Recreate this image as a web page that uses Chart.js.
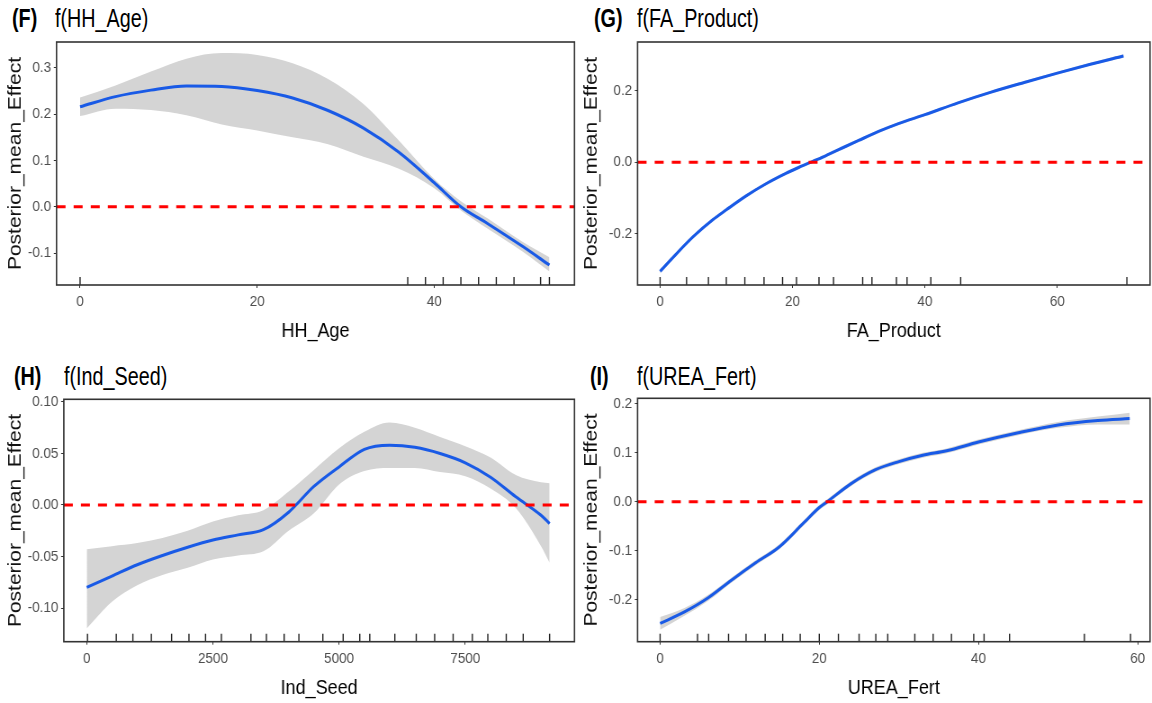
<!DOCTYPE html>
<html><head><meta charset="utf-8">
<script src="https://cdn.jsdelivr.net/npm/chart.js@4.4.1/dist/chart.umd.min.js"></script>
<style>
html,body{margin:0;padding:0;background:#fff;width:1152px;height:703px;overflow:hidden;position:relative}
canvas{position:absolute;transform:scaleX(0.9);transform-origin:0 0}
.ttl{position:absolute;font-family:'Liberation Sans',Arial,sans-serif;font-size:25px;line-height:1;color:#000;white-space:nowrap;transform:scaleX(0.79);transform-origin:0 0}
.lbl{font-weight:bold}
</style></head><body>
<div class="ttl lbl" style="left:12px;top:6px">(F)</div>
<div class="ttl" style="left:55px;top:6px">f(HH_Age)</div>
<div class="ttl lbl" style="left:594px;top:6px">(G)</div>
<div class="ttl" style="left:637px;top:6px">f(FA_Product)</div>
<div class="ttl lbl" style="left:14px;top:364px">(H)</div>
<div class="ttl" style="left:64px;top:364px">f(Ind_Seed)</div>
<div class="ttl lbl" style="left:590px;top:364px">(I)</div>
<div class="ttl" style="left:637px;top:364px">f(UREA_Fert)</div>
<canvas id="cF" width="640" height="351" style="left:0;top:0"></canvas>
<canvas id="cG" width="640" height="351" style="left:576px;top:0"></canvas>
<canvas id="cH" width="640" height="352" style="left:0;top:351px"></canvas>
<canvas id="cI" width="640" height="352" style="left:576px;top:351px"></canvas>
<script>
// ---- Panel F: HH_Age ----
const hhAgeX     = [0, 4, 8, 12, 16, 20, 24, 28, 32, 36, 40, 43, 46, 50, 53];
const hhAgeMean  = [0.216, 0.238, 0.252, 0.261, 0.260, 0.251, 0.235, 0.208, 0.170, 0.118, 0.052, 0.000, -0.036, -0.086, -0.126];
const hhAgeUpper = [0.236, 0.262, 0.292, 0.320, 0.332, 0.328, 0.310, 0.276, 0.222, 0.143, 0.060, 0.012, -0.025, -0.076, -0.109];
const hhAgeLower = [0.196, 0.212, 0.209, 0.198, 0.178, 0.165, 0.150, 0.135, 0.108, 0.082, 0.040, -0.008, -0.047, -0.097, -0.140];
const hhAgeRug   = [0, 37, 39, 41, 43, 45, 47, 49, 52, 53];
const hhAgeXTicks = [0, 20, 40];
const hhAgeYTicks = [-0.1, 0, 0.1, 0.2, 0.3];

// ---- Panel G: FA_Product ----
const faProductX     = [0, 2, 5, 8, 10, 13, 16, 19, 21, 23, 25, 28, 30, 33, 36, 40, 45, 50, 55, 60, 65, 70];
const faProductMean  = [-0.305, -0.265, -0.208, -0.160, -0.133, -0.094, -0.060, -0.031, -0.014, 0.002, 0.018, 0.044, 0.061, 0.086, 0.108, 0.133, 0.166, 0.196, 0.223, 0.249, 0.274, 0.297];
const faProductUpper = [-0.299, -0.260, -0.204, -0.156, -0.129, -0.090, -0.056, -0.027, -0.010, 0.006, 0.022, 0.048, 0.065, 0.090, 0.112, 0.137, 0.170, 0.200, 0.227, 0.253, 0.278, 0.302];
const faProductLower = [-0.311, -0.270, -0.212, -0.164, -0.137, -0.098, -0.064, -0.035, -0.018, -0.002, 0.014, 0.040, 0.057, 0.082, 0.104, 0.129, 0.162, 0.192, 0.219, 0.245, 0.270, 0.292];
const faProductRug   = [0, 4, 7.3, 10, 12.8, 15.7, 18.5, 20.6, 24, 26.2, 30.6, 32, 35.7, 37.3, 40.9, 45.4, 70.5];
const faProductXTicks = [0, 20, 40, 60];
const faProductYTicks = [-0.2, 0, 0.2];

// ---- Panel H: Ind_Seed ----
const indSeedX     = [0, 500, 1000, 1500, 2000, 2500, 3000, 3500, 4000, 4500, 5000, 5500, 6000, 6500, 7000, 7500, 8000, 8500, 9000, 9170];
const indSeedMean  = [-0.080, -0.069, -0.058, -0.049, -0.041, -0.034, -0.029, -0.024, -0.007, 0.018, 0.037, 0.054, 0.058, 0.056, 0.050, 0.041, 0.027, 0.008, -0.010, -0.018];
const indSeedUpper = [-0.043, -0.040, -0.037, -0.032, -0.025, -0.016, -0.010, -0.005, 0.013, 0.034, 0.055, 0.071, 0.080, 0.075, 0.066, 0.057, 0.046, 0.029, 0.022, 0.021];
const indSeedLower = [-0.120, -0.094, -0.078, -0.068, -0.061, -0.053, -0.049, -0.045, -0.025, -0.008, 0.020, 0.033, 0.036, 0.036, 0.032, 0.028, 0.016, -0.003, -0.040, -0.056];
const indSeedRug   = [15, 585, 914, 1280, 1681, 2025, 2354, 2668, 3253, 3560, 3911, 4203, 4678, 5080, 5409, 5607, 6104, 6528, 6893, 7259, 7639, 7946, 8311, 8647, 9170];
const indSeedXTicks = [0, 2500, 5000, 7500];
const indSeedYTicks = [-0.10, -0.05, 0, 0.05, 0.10];

// ---- Panel I: UREA_Fert ----
const ureaFertX     = [0, 3, 6, 9, 12, 15, 18, 20, 21, 24, 27, 30, 33, 36, 40, 45, 50, 55, 59];
const ureaFertMean  = [-0.249, -0.226, -0.197, -0.160, -0.125, -0.092, -0.044, -0.012, 0.000, 0.037, 0.065, 0.082, 0.095, 0.104, 0.122, 0.141, 0.157, 0.166, 0.170];
const ureaFertUpper = [-0.236, -0.218, -0.191, -0.155, -0.120, -0.087, -0.039, -0.007, 0.005, 0.042, 0.070, 0.087, 0.100, 0.109, 0.127, 0.146, 0.163, 0.174, 0.182];
const ureaFertLower = [-0.262, -0.234, -0.203, -0.165, -0.130, -0.097, -0.049, -0.017, -0.005, 0.032, 0.060, 0.077, 0.090, 0.099, 0.117, 0.136, 0.151, 0.158, 0.158];
const ureaFertRug   = [0, 4.7, 6.1, 8.6, 10.8, 13.2, 15.4, 17.6, 20, 22.4, 25, 27.1, 28.6, 32, 34.3, 36.6, 39.4, 40.7, 43.9, 53.3, 59.1];
const ureaFertXTicks = [0, 20, 40, 60];
const ureaFertYTicks = [-0.2, -0.1, 0, 0.1, 0.2];

const FONT = "'Liberation Sans',Arial,sans-serif";

const decoPlugin = {
  id: 'deco',
  afterDatasetsDraw(chart, args, opts) {
    const {ctx, chartArea: a, scales: {x, y}} = chart;
    ctx.save();
    // zero reference line
    const y0 = y.getPixelForValue(0);
    ctx.strokeStyle = '#ff0000';
    ctx.lineWidth = 3;
    ctx.setLineDash([10, 9]);
    ctx.beginPath(); ctx.moveTo(a.left, y0); ctx.lineTo(a.right, y0); ctx.stroke();
    ctx.setLineDash([]);
    // rug
    ctx.strokeStyle = '#222';
    ctx.lineWidth = 1.4;
    (opts.rug || []).forEach(v => {
      const px = x.getPixelForValue(v);
      ctx.beginPath(); ctx.moveTo(px, a.bottom); ctx.lineTo(px, a.bottom - 8); ctx.stroke();
    });
    // panel border
    ctx.strokeStyle = '#333';
    ctx.lineWidth = 1.6;
    ctx.strokeRect(a.left, a.top, a.right - a.left, a.bottom - a.top);
    ctx.restore();
  }
};

function pts(xs, ys) { return xs.map((v, i) => ({x: v, y: ys[i]})); }

function makePanel(id, c) {
  new Chart(document.getElementById(id), {
    type: 'line',
    data: { datasets: [
      { data: pts(c.x, c.mean), borderColor: 'rgb(25,90,230)', borderWidth: 3, pointRadius: 0, fill: false, cubicInterpolationMode: 'monotone', order: 0 },
      { data: pts(c.x, c.lower), borderWidth: 0, borderColor: 'rgba(0,0,0,0)', pointRadius: 0, fill: false, cubicInterpolationMode: 'monotone', order: 2 },
      { data: pts(c.x, c.upper), borderWidth: 0, borderColor: 'rgba(0,0,0,0)', pointRadius: 0, fill: 1, backgroundColor: '#d4d4d4', cubicInterpolationMode: 'monotone', order: 1 }
    ]},
    options: {
      responsive: false, animation: false, events: [],
      layout: { padding: { top: c.padTop, right: c.padRight, left: 0, bottom: 0 } },
      plugins: { legend: { display: false }, tooltip: { enabled: false }, filler: { drawTime: 'beforeDatasetsDraw' }, deco: { rug: c.rug } },
      scales: {
        x: {
          type: 'linear', min: c.xMin, max: c.xMax,
          afterFit(s) { s.height = c.xH; },
          afterBuildTicks(s) { s.ticks = c.xTicks.map(v => ({value: v})); },
          grid: { drawOnChartArea: false, tickLength: 3, color: '#333' },
          border: { display: false },
          ticks: { padding: 5, color: '#4d4d4d', font: { family: FONT, size: 15 }, maxRotation: 0, autoSkip: false, callback: v => String(v) },
          title: { display: true, text: c.xTitle, color: '#000', font: { family: FONT, size: 20 }, padding: { top: 0, bottom: c.xTitlePad } }
        },
        y: {
          type: 'linear', min: c.yMin, max: c.yMax,
          afterFit(s) { s.width = c.yW; },
          afterBuildTicks(s) { s.ticks = c.yTicks.map(v => ({value: v})); },
          grid: { drawOnChartArea: false, tickLength: 3, color: '#333' },
          border: { display: false },
          ticks: { padding: 3, color: '#4d4d4d', font: { family: FONT, size: 15 }, autoSkip: false, callback: v => Number(v).toFixed(c.yDec) },
          title: { display: true, text: 'Posterior_mean_Effect', color: '#111', font: { family: FONT, size: 21 }, padding: { top: 4.5, bottom: 0 } }
        }
      }
    },
    plugins: [decoPlugin]
  });
}

makePanel('cF', { x: hhAgeX, mean: hhAgeMean, upper: hhAgeUpper, lower: hhAgeLower, rug: hhAgeRug,
  xTicks: hhAgeXTicks, yTicks: hhAgeYTicks, xMin: -2.66, xMax: 55.83, yMin: -0.169, yMax: 0.356, yDec: 1,
  xTitle: 'HH_Age', yW: 62.8, xH: 66, padTop: 42, padRight: 1.7, xTitlePad: 8 });
makePanel('cG', { x: faProductX, mean: faProductMean, upper: faProductUpper, lower: faProductLower, rug: faProductRug,
  xTicks: faProductXTicks, yTicks: faProductYTicks, xMin: -3.4, xMax: 74.0, yMin: -0.343, yMax: 0.336, yDec: 1,
  xTitle: 'FA_Product', yW: 68.4, xH: 66, padTop: 42, padRight: 2.2, xTitlePad: 8 });
makePanel('cH', { x: indSeedX, mean: indSeedMean, upper: indSeedUpper, lower: indSeedLower, rug: indSeedRug,
  xTicks: indSeedXTicks, yTicks: indSeedYTicks, xMin: -454, xMax: 9663, yMin: -0.1327, yMax: 0.1026, yDec: 2,
  xTitle: 'Ind_Seed', yW: 70.9, xH: 61.3, padTop: 48.3, padRight: 1.7, xTitlePad: 3 });
makePanel('cI', { x: ureaFertX, mean: ureaFertMean, upper: ureaFertUpper, lower: ureaFertLower, rug: ureaFertRug,
  xTicks: ureaFertXTicks, yTicks: ureaFertYTicks, xMin: -2.83, xMax: 61.55, yMin: -0.2863, yMax: 0.2114, yDec: 1,
  xTitle: 'UREA_Fert', yW: 68.4, xH: 61.3, padTop: 47.3, padRight: 2.2, xTitlePad: 3 });
</script>
</body></html>
